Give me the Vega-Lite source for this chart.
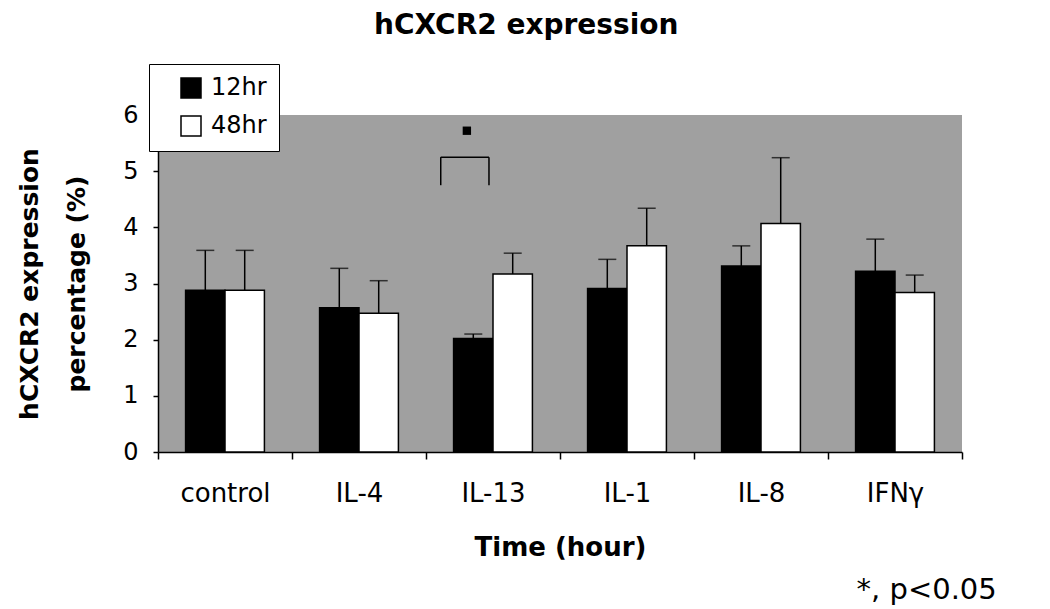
{
  "$schema": "https://vega.github.io/schema/vega-lite/v6.json",
  "background": "white",
  "padding": {"left": 17, "top": 11, "right": 53, "bottom": 6},
  "title": {
    "text": "hCXCR2 expression",
    "font": "DejaVu Sans",
    "fontSize": 28,
    "fontWeight": "bold",
    "color": "black",
    "anchor": "middle",
    "dx": 19,
    "offset": 24
  },
  "config": {
    "view": {"fill": "#a0a0a0", "stroke": null},
    "font": "DejaVu Sans"
  },
  "resolve": {"legend": {"color": "independent"}},
  "vconcat": [
    {
      "width": 804,
      "height": 337,
      "title": {
        "text": "*, p<0.05",
        "orient": "bottom",
        "anchor": "end",
        "font": "DejaVu Sans",
        "fontSize": 29,
        "fontWeight": "normal",
        "color": "black",
        "dx": 34,
        "offset": 16
      },
      "layer": [
        {
          "data": {
            "values": [
              {"cyt": "control", "time": "12hr", "value": 2.88, "upper": 3.59},
              {"cyt": "control", "time": "48hr", "value": 2.88, "upper": 3.59},
              {"cyt": "IL-4", "time": "12hr", "value": 2.57, "upper": 3.27},
              {"cyt": "IL-4", "time": "48hr", "value": 2.47, "upper": 3.05},
              {"cyt": "IL-13", "time": "12hr", "value": 2.02, "upper": 2.10},
              {"cyt": "IL-13", "time": "48hr", "value": 3.17, "upper": 3.54},
              {"cyt": "IL-1", "time": "12hr", "value": 2.91, "upper": 3.43},
              {"cyt": "IL-1", "time": "48hr", "value": 3.67, "upper": 4.34},
              {"cyt": "IL-8", "time": "12hr", "value": 3.31, "upper": 3.67},
              {"cyt": "IL-8", "time": "48hr", "value": 4.07, "upper": 5.24},
              {"cyt": "IFNγ", "time": "12hr", "value": 3.22, "upper": 3.79},
              {"cyt": "IFNγ", "time": "48hr", "value": 2.84, "upper": 3.15}
            ]
          },
          "layer": [
            {
              "mark": {"type": "bar", "stroke": "black", "strokeWidth": 1.5},
              "encoding": {
                "x": {
                  "field": "cyt",
                  "type": "nominal",
                  "sort": ["control", "IL-4", "IL-13", "IL-1", "IL-8", "IFNγ"],
                  "scale": {"domain": ["control", "IL-4", "IL-13", "IL-1", "IL-8", "IFNγ"], "paddingInner": 0, "paddingOuter": 0},
                  "axis": {
                    "title": "Time (hour)",
                    "labelAngle": 0,
                    "labelFont": "DejaVu Sans",
                    "labelFontSize": 26,
                    "labelColor": "black",
                    "labelPadding": 21,
                    "tickBand": "extent",
                    "tickSize": 7,
                    "tickColor": "black",
                    "tickWidth": 1.5,
                    "domainColor": "black",
                    "domainWidth": 1.5,
                    "titleFont": "DejaVu Sans",
                    "titleFontSize": 26,
                    "titleFontWeight": "bold",
                    "titleColor": "black",
                    "titlePadding": 28
                  }
                },
                "xOffset": {
                  "field": "time",
                  "type": "nominal",
                  "scale": {"domain": ["12hr", "48hr"], "paddingInner": 0, "paddingOuter": 0.7}
                },
                "y": {
                  "field": "value",
                  "type": "quantitative",
                  "scale": {"domain": [0, 6], "nice": false},
                  "axis": {
                    "title": ["hCXCR2 expression", "percentage (%)"],
                    "values": [0, 1, 2, 3, 4, 5, 6],
                    "format": "d",
                    "grid": false,
                    "labelFont": "DejaVu Sans",
                    "labelFontSize": 24,
                    "labelColor": "black",
                    "labelPadding": 15,
                    "tickSize": 5,
                    "tickColor": "black",
                    "tickWidth": 1.5,
                    "domainColor": "black",
                    "domainWidth": 1.5,
                    "titleFont": "DejaVu Sans",
                    "titleFontSize": 25,
                    "titleFontWeight": "bold",
                    "titleColor": "black",
                    "titleLineHeight": 47,
                    "titlePadding": 33
                  }
                },
                "color": {
                  "field": "time",
                  "type": "nominal",
                  "scale": {"domain": ["12hr", "48hr"], "range": ["black", "white"]},
                  "legend": {
                    "orient": "none",
                    "legendX": -9,
                    "legendY": -51,
                    "title": null,
                    "symbolType": "square",
                    "symbolSize": 400,
                    "symbolStrokeColor": "black",
                    "symbolStrokeWidth": 1.5,
                    "labelFont": "DejaVu Sans",
                    "labelFontSize": 24,
                    "labelColor": "black",
                    "labelOffset": 8,
                    "symbolOffset": 18,
                    "fillColor": "white",
                    "strokeColor": "black",
                    "padding": 12,
                    "rowPadding": 12
                  }
                }
              }
            },
            {
              "mark": {"type": "rule", "color": "black", "strokeWidth": 1.5},
              "encoding": {
                "x": {"field": "cyt", "type": "nominal"},
                "xOffset": {"field": "time", "type": "nominal"},
                "y": {"field": "value", "type": "quantitative"},
                "y2": {"field": "upper"}
              }
            },
            {
              "mark": {"type": "tick", "color": "black", "thickness": 1.5, "size": 18},
              "encoding": {
                "x": {"field": "cyt", "type": "nominal"},
                "xOffset": {"field": "time", "type": "nominal"},
                "y": {"field": "upper", "type": "quantitative"}
              }
            }
          ]
        },
        {
          "data": {"values": [{"cyt": "IL-13", "low": 4.75, "high": 5.25, "star": 5.72}]},
          "layer": [
            {
              "mark": {"type": "rule", "color": "black", "strokeWidth": 1.5},
              "encoding": {
                "x": {"field": "cyt", "type": "nominal", "bandPosition": 0.11},
                "x2": {"field": "cyt", "bandPosition": 0.47},
                "y": {"field": "high", "type": "quantitative"}
              }
            },
            {
              "mark": {"type": "rule", "color": "black", "strokeWidth": 1.5},
              "encoding": {
                "x": {"field": "cyt", "type": "nominal", "bandPosition": 0.11},
                "y": {"field": "low", "type": "quantitative"},
                "y2": {"field": "high"}
              }
            },
            {
              "mark": {"type": "rule", "color": "black", "strokeWidth": 1.5},
              "encoding": {
                "x": {"field": "cyt", "type": "nominal", "bandPosition": 0.47},
                "y": {"field": "low", "type": "quantitative"},
                "y2": {"field": "high"}
              }
            },
            {
              "mark": {"type": "point", "shape": "square", "filled": true, "color": "black", "size": 70, "opacity": 1},
              "encoding": {
                "x": {"field": "cyt", "type": "nominal", "bandPosition": 0.305},
                "y": {"field": "star", "type": "quantitative"}
              }
            }
          ]
        }
      ]
    }
  ]
}
